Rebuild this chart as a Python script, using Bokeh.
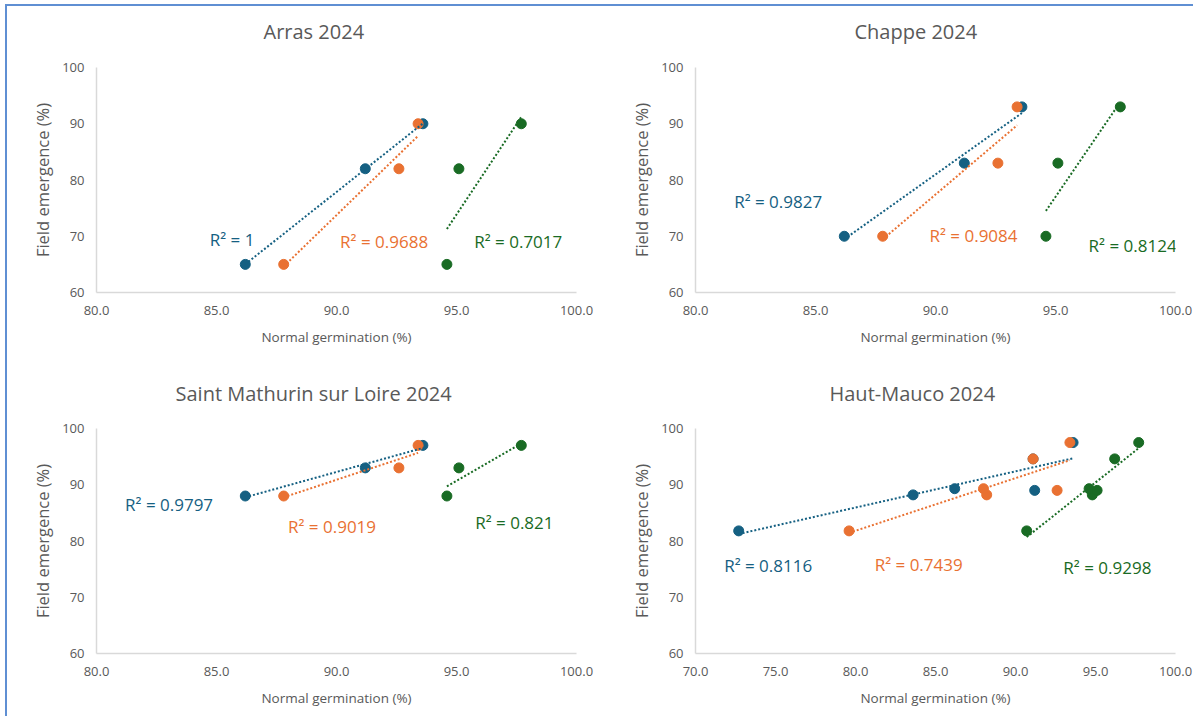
import numpy as np
from bokeh.plotting import figure
from bokeh.layouts import gridplot
from bokeh.models import Range1d, FixedTicker, NumeralTickFormatter, Label, Title
from bokeh.embed import file_html
from bokeh.resources import INLINE

# ---------------- data ----------------
titles = ["Arras 2024", "Chappe 2024", "Saint Mathurin sur Loire 2024", "Haut-Mauco 2024"]

# germination (x) per series, shared between sites except Haut-Mauco (6 lots)
blue_x = [86.2, 91.2, 93.6]
orange_x = [87.8, 92.6, 93.4]
green_x = [94.6, 95.1, 97.7]

arras_y = [65, 82, 90]
chappe_y = [70, 83, 93]
stmathurin_y = [88, 93, 97]

hm_blue_x = [72.7, 83.6, 86.2, 91.2, 91.1, 93.6]
hm_orange_x = [79.6, 88.2, 88.0, 92.6, 91.1, 93.4]
hm_green_x = [90.7, 94.8, 94.6, 95.1, 96.2, 97.7]
hm_y = [81.8, 88.2, 89.3, 89.0, 94.6, 97.5]

r2_texts = [
    ["R² = 1", "R² = 0.9688", "R² = 0.7017"],
    ["R² = 0.9827", "R² = 0.9084", "R² = 0.8124"],
    ["R² = 0.9797", "R² = 0.9019", "R² = 0.821"],
    ["R² = 0.8116", "R² = 0.7439", "R² = 0.9298"],
]

x_ranges = [(80, 100), (80, 100), (80, 100), (70, 100)]
y_ticks = [60, 70, 80, 90, 100]

panels = [
    [(blue_x, arras_y), (orange_x, arras_y), (green_x, arras_y)],
    [(blue_x, chappe_y), (orange_x, chappe_y), (green_x, chappe_y)],
    [(blue_x, stmathurin_y), (orange_x, stmathurin_y), (green_x, stmathurin_y)],
    [(hm_blue_x, hm_y), (hm_orange_x, hm_y), (hm_green_x, hm_y)],
]

# ---------------- styling / layout ----------------
colors = ["#156082", "#E97132", "#196B24"]
FONT = "Open Sans"
GREY = "#595959"

# R² label anchors (data coordinates, left/middle)
label_pos = [
    [(84.72, 69.5), (90.15, 69.0), (95.74, 69.0)],
    [(81.61, 76.2), (89.75, 70.2), (96.38, 68.4)],
    [(81.19, 86.5), (87.98, 82.5), (95.78, 83.3)],
    [(71.79, 75.6), (81.2, 75.9), (92.99, 75.3)],
]

# (width, height, border left, right, top, bottom, spacer standoff under title, title left offset)
geom = [
    (596, 362, 89, 25, 61, 76, 18, 167),
    (590, 362, 88, 18, 61, 76, 18, 159),
    (596, 348, 87, 27, 60, 63, 17, 79),
    (590, 348, 92, 17, 60, 63, 17, 134),
]


def make_panel(i):
    w, h, bl, br, bt, bb, sp, toff = geom[i]
    lo, hi = x_ranges[i]
    p = figure(width=w, height=h, x_range=Range1d(lo, hi), y_range=Range1d(60, 100),
               output_backend="svg", toolbar_location=None,
               min_border_left=bl, min_border_right=br, min_border_top=bt, min_border_bottom=bb)
    p.outline_line_color = None
    p.grid.visible = False
    p.background_fill_color = "white"
    p.border_fill_color = "white"

    # spacer (closest to frame), then the real title above it
    p.add_layout(Title(text=" ", text_font_size="1px", standoff=sp), "above")
    p.add_layout(Title(text=titles[i], align="left", offset=toff, text_font=FONT,
                       text_font_size="20px", text_font_style="normal",
                       text_color=GREY, standoff=4), "above")

    p.xaxis.ticker = FixedTicker(ticks=list(range(lo, hi + 1, 5)))
    p.xaxis.formatter = NumeralTickFormatter(format="0.0")
    p.yaxis.ticker = FixedTicker(ticks=y_ticks)
    for ax in (p.xaxis, p.yaxis):
        ax.axis_line_color = "#D9D9D9"
        ax.axis_line_width = 1.5
        ax.major_tick_line_color = None
        ax.minor_tick_line_color = None
        ax.major_tick_out = 0
        ax.major_label_text_font = FONT
        ax.major_label_text_font_size = "13px"
        ax.major_label_text_color = GREY
        ax.axis_label_text_font = FONT
        ax.axis_label_text_font_style = "normal"
        ax.axis_label_text_color = GREY
    p.xaxis.axis_label = "Normal germination (%)"
    p.xaxis.axis_label_text_font_size = "13.5px"
    p.xaxis.major_label_standoff = 13
    p.xaxis.axis_label_standoff = 10
    p.yaxis.axis_label = "Field emergence (%)"
    p.yaxis.axis_label_text_font_size = "16.5px"
    p.yaxis.major_label_standoff = 12
    p.yaxis.axis_label_standoff = 5

    for k, (xs, ys) in enumerate(panels[i]):
        xs = np.array(xs, dtype=float)
        ys = np.array(ys, dtype=float)
        p.scatter(xs, ys, size=10, color=colors[k], line_color=colors[k])
    for k, (xs, ys) in enumerate(panels[i]):
        xs = np.array(xs, dtype=float)
        ys = np.array(ys, dtype=float)
        m, c = np.polyfit(xs, ys, 1)
        xl = np.array([xs.min(), xs.max()])
        p.line(xl, m * xl + c, line_color=colors[k], line_width=2, line_dash="2 2")
        lx, ly = label_pos[i][k]
        p.add_layout(Label(x=lx, y=ly, text=r2_texts[i][k], text_font=FONT,
                           text_font_size="17px", text_color=colors[k],
                           text_align="left", text_baseline="middle"))
    return p


figs = [make_panel(i) for i in range(4)]
grid = gridplot([[figs[0], figs[1]], [figs[2], figs[3]]], toolbar_location=None)
grid.styles = {"border-left": "2px solid #5F8FD3", "border-top": "2px solid #5F8FD3",
               "margin-left": "5px", "margin-top": "4px"}

open("out.html", "w").write(file_html(grid, INLINE))
